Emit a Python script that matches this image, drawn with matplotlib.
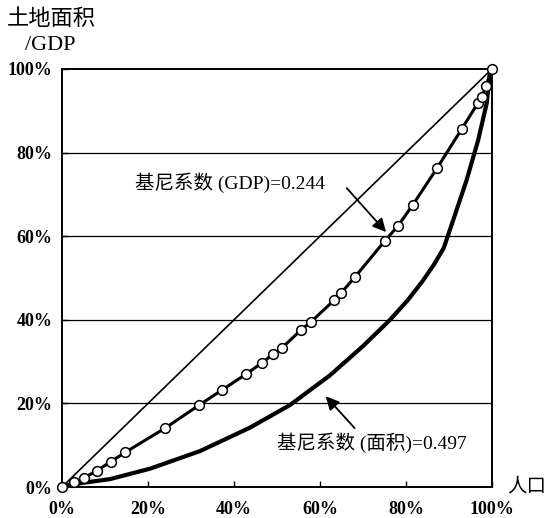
import numpy as np
import matplotlib.pyplot as plt

plt.rcParams['font.family'] = ['Liberation Serif', 'Noto Sans CJK SC']

# GDP Lorenz curve points (cumulative %)
gdp_x = [0, 2.9, 5.1, 8.1, 11.4, 14.7, 24.0, 31.9, 37.2, 42.8, 46.5, 49.1, 51.2,
         55.6, 57.9, 63.3, 64.9, 68.1, 75.1, 78.1, 81.6, 87.3, 93.0, 96.7, 97.7, 98.6, 100]
gdp_y = [0, 1.1, 2.2, 3.9, 6.1, 8.3, 14.1, 19.6, 23.2, 27.0, 29.7, 31.8, 33.3,
         37.6, 39.5, 44.7, 46.4, 50.2, 58.9, 62.4, 67.5, 76.4, 85.7, 91.8, 93.4, 95.9, 100]

# land area Lorenz curve
area_x = [0, 4.2, 11.2, 20.5, 32.1, 43.7, 53, 62.3, 70.1, 76.3, 80.5, 83.9, 86.5, 88.8,
          91, 94.1, 96.8, 98.8, 99.5, 100]
area_y = [0, 0.9, 1.9, 4.4, 8.6, 14.2, 19.6, 26.7, 33.8, 40.0, 44.8, 49.3, 53.2, 57.2,
          63.9, 73.4, 83, 91.9, 99, 100]

ticks = [0, 20, 40, 60, 80, 100]
tick_labels = ['0%', '20%', '40%', '60%', '80%', '100%']

fig = plt.figure(figsize=(5.46, 5.18), dpi=100)
ax = fig.add_axes([0.1136, 0.0598, 0.7874, 0.807])

for g in [20, 40, 60, 80]:
    ax.axhline(g, color='black', lw=0.9, zorder=1)

ax.plot([0, 100], [0, 100], color='black', lw=1.2, zorder=2)
ax.plot(area_x, area_y, color='black', lw=3.0, zorder=3,
        solid_joinstyle='round', clip_on=False)
ax.plot(gdp_x, gdp_y, color='black', lw=2.2, marker='o', markersize=7,
        markerfacecolor='white', markeredgecolor='black', markeredgewidth=1.1,
        zorder=4, clip_on=False)

arrow = dict(arrowstyle='-|>', color='black', lw=1.3, mutation_scale=20)
ax.annotate('', xy=(75.8, 60.5), xytext=(65.8, 72), arrowprops=arrow)
ax.text(17, 72.7, '基尼系数 (GDP)=0.244', fontsize=14, ha='left', va='center')
ax.annotate('', xy=(60.9, 22.2), xytext=(68.5, 13.6), arrowprops=arrow)
ax.text(50, 10.5, '基尼系数 (面积)=0.497', fontsize=14, ha='left', va='center')

ax.set_xlim(0, 100)
ax.set_ylim(0, 100)
ax.set_xticks(ticks)
ax.set_xticklabels(tick_labels, fontsize=13, fontweight='bold')
ax.set_yticks(ticks)
ax.set_yticklabels(tick_labels, fontsize=13, fontweight='bold')
ax.tick_params(direction='in', length=4, width=1)
ax.tick_params(axis='x', pad=10)
ax.tick_params(axis='y', pad=7)
for s in ax.spines.values():
    s.set_linewidth(1.4)

fig.text(0.013, 0.963, '土地面积', fontsize=16, ha='left', va='center')
fig.text(0.045, 0.912, '/GDP', fontsize=16, ha='left', va='center')
fig.text(0.928, 0.061, '人口', fontsize=14, ha='left', va='center')

fig.savefig('out.png', dpi=100)
